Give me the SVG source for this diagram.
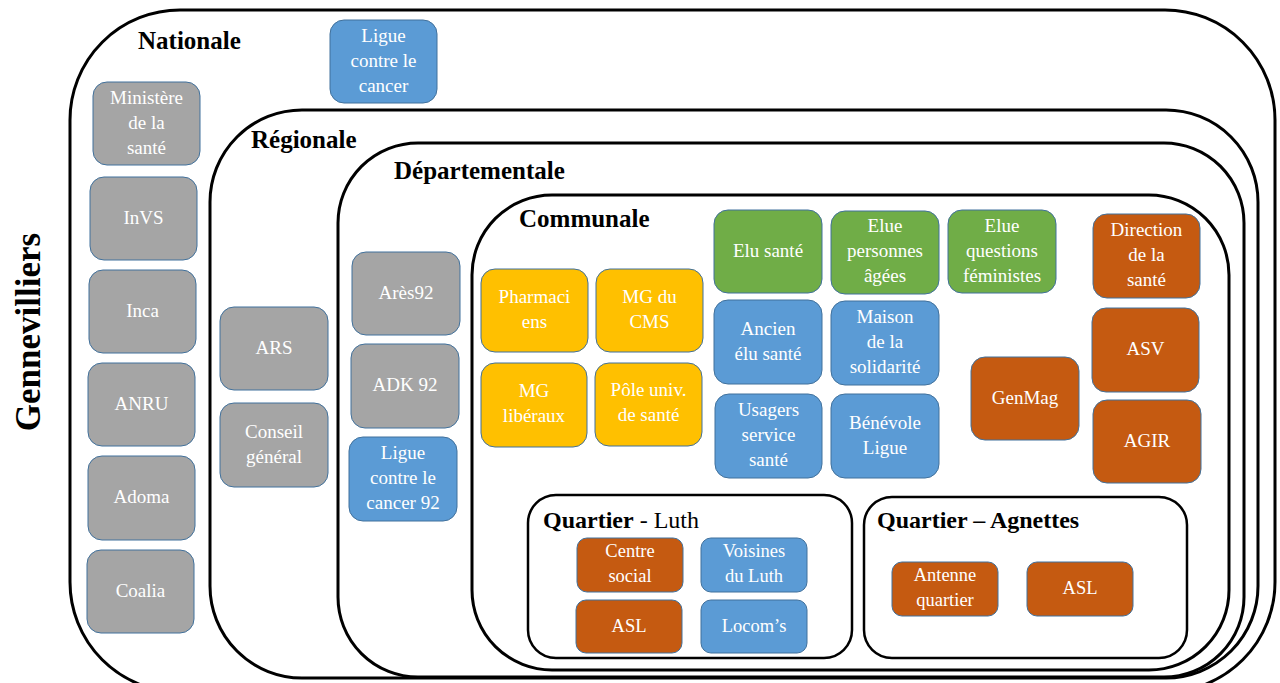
<svg xmlns="http://www.w3.org/2000/svg" width="1280" height="683" viewBox="0 0 1280 683">
<style>
.frame{fill:none;stroke:#000;stroke-width:3}
.q{fill:#fff;stroke:#000;stroke-width:2.5}
.n{stroke:#41719C;stroke-width:1}
.gray{fill:#A5A5A5}
.blue{fill:#5B9BD5}
.yel{fill:#FFC000}
.grn{fill:#70AD47}
.org{fill:#C55A11}
.t{font-family:"Liberation Serif",serif;font-size:19px;fill:#fff;text-anchor:middle}
.ts{font-family:"Liberation Serif",serif;font-size:18.5px;fill:#fff;text-anchor:middle}
.title{font-family:"Liberation Serif",serif;font-size:25px;font-weight:bold;fill:#000}
.qt{font-family:"Liberation Serif",serif;font-size:24px;fill:#000}
</style>
<rect width="1280" height="683" fill="#fff"/>
<g id="levels">
<rect id="nationale-frame" class="frame" x="70" y="10" width="1205" height="682" rx="110"/>
<rect id="regionale-frame" class="frame" x="210" y="110" width="1048" height="568" rx="92"/>
<rect id="departementale-frame" class="frame" x="338" y="143" width="906" height="534" rx="80"/>
<rect id="communale-frame" class="frame" x="472" y="195" width="757" height="475" rx="80"/>
</g>
<text id="gennevilliers" transform="translate(40,332) rotate(-90)" font-family="'Liberation Serif',serif" font-size="35" font-weight="bold" text-anchor="middle">Gennevilliers</text>
<text class="title" x="138" y="49">Nationale</text>
<text class="title" x="251" y="148">Régionale</text>
<text class="title" x="394" y="179">Départementale</text>
<text class="title" x="519" y="227">Communale</text>

<g id="quartier-luth">
<rect class="q" x="528" y="495" width="324" height="163" rx="28"/>
<text class="qt" x="543" y="528"><tspan font-weight="bold">Quartier</tspan> - Luth</text>
</g>
<g id="quartier-agnettes">
<rect class="q" x="864" y="497" width="323" height="161" rx="28"/>
<text class="qt" x="877" y="528" font-weight="bold">Quartier – Agnettes</text>
</g>

<g id="ligue-cancer"><rect class="n blue" x="330" y="20" width="107" height="83" rx="14"/><text class="t" x="383.5" y="42">Ligue</text><text class="t" x="383.5" y="67">contre le</text><text class="t" x="383.5" y="92">cancer</text></g>
<g id="ministere"><rect class="n gray" x="93" y="82" width="107" height="83" rx="14"/><text class="t" x="146.5" y="104">Ministère</text><text class="t" x="146.5" y="129">de la</text><text class="t" x="146.5" y="154">santé</text></g>
<g id="invs"><rect class="n gray" x="90" y="177" width="107" height="83" rx="14"/><text class="t" x="143.5" y="224">InVS</text></g>
<g id="inca"><rect class="n gray" x="89" y="270" width="107" height="83" rx="14"/><text class="t" x="142.5" y="317">Inca</text></g>
<g id="anru"><rect class="n gray" x="88" y="363" width="107" height="83" rx="14"/><text class="t" x="141.5" y="410">ANRU</text></g>
<g id="adoma"><rect class="n gray" x="88" y="456" width="107" height="84" rx="14"/><text class="t" x="141.5" y="503">Adoma</text></g>
<g id="coalia"><rect class="n gray" x="87" y="550" width="107" height="83" rx="14"/><text class="t" x="140.5" y="597">Coalia</text></g>

<g id="ars"><rect class="n gray" x="220" y="307" width="108" height="83" rx="14"/><text class="t" x="274" y="354">ARS</text></g>
<g id="conseil-general"><rect class="n gray" x="220" y="403" width="108" height="84" rx="14"/><text class="t" x="274" y="438">Conseil</text><text class="t" x="274" y="463">général</text></g>

<g id="ares92"><rect class="n gray" x="352" y="252" width="108" height="83" rx="14"/><text class="t" x="406" y="299">Arès92</text></g>
<g id="adk92"><rect class="n gray" x="351" y="344" width="108" height="84" rx="14"/><text class="t" x="405" y="391">ADK 92</text></g>
<g id="ligue-cancer-92"><rect class="n blue" x="349" y="437" width="108" height="84" rx="14"/><text class="t" x="403" y="459">Ligue</text><text class="t" x="403" y="484">contre le</text><text class="t" x="403" y="509">cancer 92</text></g>

<g id="pharmaciens"><rect class="n yel" x="481" y="269" width="107" height="83" rx="14"/><text class="t" x="534.5" y="303">Pharmaci</text><text class="t" x="534.5" y="328">ens</text></g>
<g id="mg-cms"><rect class="n yel" x="596" y="269" width="107" height="83" rx="14"/><text class="t" x="649.5" y="303">MG du</text><text class="t" x="649.5" y="328">CMS</text></g>
<g id="mg-liberaux"><rect class="n yel" x="481" y="363" width="106" height="84" rx="14"/><text class="t" x="534" y="397">MG</text><text class="t" x="534" y="422">libéraux</text></g>
<g id="pole-univ"><rect class="n yel" x="595" y="363" width="107" height="83" rx="14"/><text class="t" x="648.5" y="396">Pôle univ.</text><text class="t" x="648.5" y="421">de santé</text></g>

<g id="elu-sante"><rect class="n grn" x="714" y="210" width="108" height="83" rx="14"/><text class="t" x="768" y="257">Elu santé</text></g>
<g id="elue-personnes-agees"><rect class="n grn" x="831" y="211" width="108" height="83" rx="14"/><text class="t" x="885" y="232">Elue</text><text class="t" x="885" y="257">personnes</text><text class="t" x="885" y="282">âgées</text></g>
<g id="elue-questions-feministes"><rect class="n grn" x="948" y="210" width="108" height="83" rx="14"/><text class="t" x="1002" y="232">Elue</text><text class="t" x="1002" y="257">questions</text><text class="t" x="1002" y="282">féministes</text></g>
<g id="direction-sante"><rect class="n org" x="1093" y="214" width="107" height="84" rx="14"/><text class="t" x="1146.5" y="236">Direction</text><text class="t" x="1146.5" y="261">de la</text><text class="t" x="1146.5" y="286">santé</text></g>

<g id="ancien-elu"><rect class="n blue" x="714" y="300" width="108" height="84" rx="14"/><text class="t" x="768" y="335">Ancien</text><text class="t" x="768" y="360">élu santé</text></g>
<g id="maison-solidarite"><rect class="n blue" x="831" y="301" width="108" height="84" rx="14"/><text class="t" x="885" y="323">Maison</text><text class="t" x="885" y="348">de la</text><text class="t" x="885" y="373">solidarité</text></g>
<g id="usagers"><rect class="n blue" x="715" y="394" width="107" height="84" rx="14"/><text class="t" x="768.5" y="416">Usagers</text><text class="t" x="768.5" y="441">service</text><text class="t" x="768.5" y="466">santé</text></g>
<g id="benevole-ligue"><rect class="n blue" x="831" y="394" width="108" height="84" rx="14"/><text class="t" x="885" y="429">Bénévole</text><text class="t" x="885" y="454">Ligue</text></g>

<g id="genmag"><rect class="n org" x="971" y="357" width="108" height="83" rx="14"/><text class="t" x="1025" y="404">GenMag</text></g>
<g id="asv"><rect class="n org" x="1092" y="308" width="107" height="84" rx="14"/><text class="t" x="1145.5" y="355">ASV</text></g>
<g id="agir"><rect class="n org" x="1093" y="400" width="108" height="83" rx="14"/><text class="t" x="1147" y="447">AGIR</text></g>

<g id="centre-social"><rect class="n org" x="577" y="538" width="106" height="54" rx="10"/><text class="ts" x="630" y="557">Centre</text><text class="ts" x="630" y="582">social</text></g>
<g id="voisines-luth"><rect class="n blue" x="701" y="538" width="106" height="54" rx="10"/><text class="ts" x="754" y="557">Voisines</text><text class="ts" x="754" y="582">du Luth</text></g>
<g id="asl-luth"><rect class="n org" x="576" y="600" width="106" height="53" rx="10"/><text class="ts" x="629" y="632">ASL</text></g>
<g id="locoms"><rect class="n blue" x="701" y="600" width="106" height="53" rx="10"/><text class="ts" x="754" y="632">Locom’s</text></g>
<g id="antenne-quartier"><rect class="n org" x="892" y="562" width="106" height="54" rx="10"/><text class="ts" x="945" y="581">Antenne</text><text class="ts" x="945" y="606">quartier</text></g>
<g id="asl-agnettes"><rect class="n org" x="1027" y="562" width="106" height="54" rx="10"/><text class="ts" x="1080" y="594">ASL</text></g>
<g id="connectors"></g>
</svg>
